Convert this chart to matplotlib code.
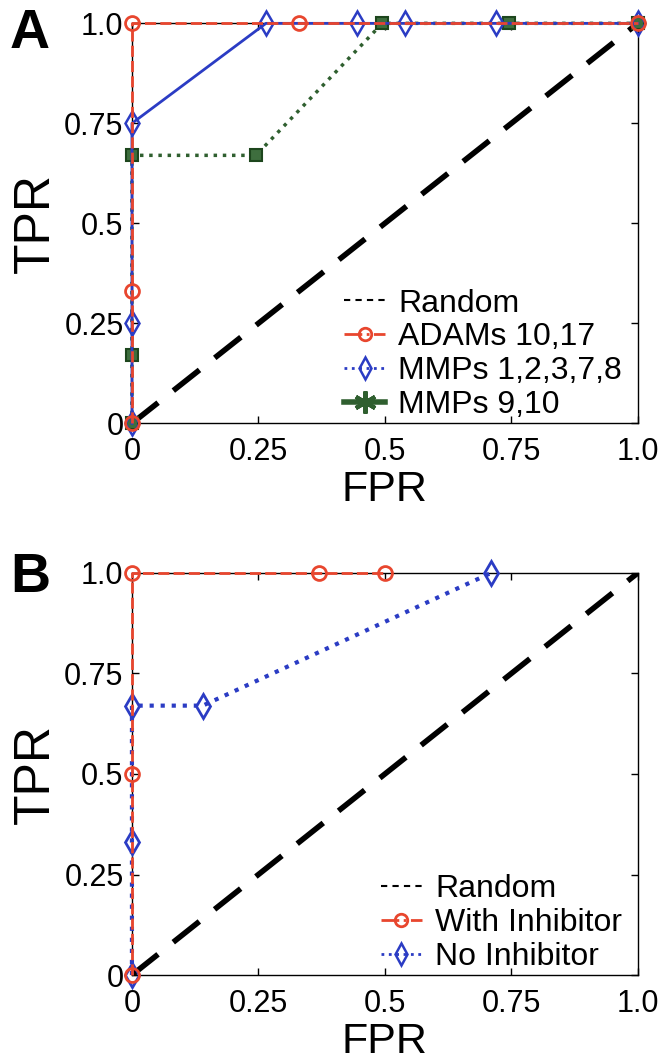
import matplotlib.pyplot as plt
from matplotlib.lines import Line2D

plt.rcParams["font.family"] = ["Liberation Sans", "DejaVu Sans"]

# ---- data ----
random_x = [0, 1]
random_y = [0, 1]

# panel A
adams_fpr = [0, 0, 0, 0.33, 1.0]
adams_tpr = [0, 0.33, 1.0, 1.0, 1.0]
mmp_a_fpr = [0, 0, 0, 0.265, 0.445, 0.54, 0.72, 1.0]
mmp_a_tpr = [0, 0.25, 0.75, 1.0, 1.0, 1.0, 1.0, 1.0]
mmp_b_fpr = [0, 0, 0, 0.245, 0.495, 0.745, 1.0]
mmp_b_tpr = [0, 0.17, 0.67, 0.67, 1.0, 1.0, 1.0]

# panel B
with_fpr = [0, 0, 0, 0.37, 0.5]
with_tpr = [0, 0.5, 1.0, 1.0, 1.0]
no_fpr = [0, 0, 0, 0.14, 0.71]
no_tpr = [0, 0.33, 0.67, 0.67, 1.0]

ticks = [0, 0.25, 0.5, 0.75, 1.0]
tick_labels = ["0", "0.25", "0.5", "0.75", "1.0"]

red = "#e8462e"
blue = "#2b3cc4"
green = "#2f5f2f"

fig = plt.figure(figsize=(6.63, 10.61), dpi=100)
axA = fig.add_axes([0.199, 0.601, 0.763, 0.377])
axB = fig.add_axes([0.199, 0.081, 0.763, 0.379])


def style(ax):
    ax.set_xlim(0, 1)
    ax.set_ylim(0, 1)
    ax.set_xticks(ticks)
    ax.set_xticklabels(tick_labels)
    ax.set_yticks(ticks)
    ax.set_yticklabels(tick_labels)
    ax.tick_params(direction="in", top=True, right=True, length=5,
                   labelsize=22, width=1)
    ax.tick_params(axis="x", pad=10)
    ax.tick_params(axis="y", pad=6)
    for s in ax.spines.values():
        s.set_linewidth(1)
    ax.set_xlabel("FPR", fontsize=31, labelpad=2)
    ax.set_ylabel("TPR", fontsize=36, labelpad=4)


def random_line(ax):
    ax.plot(random_x, random_y, color="k", lw=4, dashes=(6, 3.5), zorder=2)


def legend(ax, handles, labels):
    ax.legend(handles, labels, loc="lower right", bbox_to_anchor=(0.975, 0.0),
              frameon=False, fontsize=23, handlelength=1.3,
              handletextpad=0.4, labelspacing=0.12, borderaxespad=0.0,
              borderpad=0.1)


# panel A
random_line(axA)
axA.plot(mmp_b_fpr, mmp_b_tpr, color=green, ls=":", lw=2.5, marker="s",
         ms=8, mfc="#3e6e3e", mec="#1d461d", mew=1.5, zorder=3, clip_on=False)
axA.plot(mmp_a_fpr, mmp_a_tpr, color=blue, ls="-", lw=2, marker="d",
         ms=12, mfc="none", mec=blue, mew=1.8, zorder=4, clip_on=False)
axA.plot(adams_fpr, adams_tpr, color=red, ls="--", dashes=(4, 1.5), lw=2,
         marker="o", ms=10, mfc="none", mec=red, mew=2, zorder=5,
         clip_on=False)
style(axA)

handlesA = [
    Line2D([], [], color="k", lw=1.5, dashes=(3, 2.5)),
    Line2D([], [], color=red, ls="-.", lw=2, marker="o", ms=9, mfc="none",
           mew=2),
    Line2D([], [], color=blue, ls=":", lw=2, marker="d", ms=11, mfc="none",
           mew=1.8),
    Line2D([], [], color=green, ls="-", lw=4, marker=(6, 2, 0), ms=16,
           mew=3),
]
legend(axA, handlesA, ["Random", "ADAMs 10,17", "MMPs 1,2,3,7,8", "MMPs 9,10"])

# panel B
random_line(axB)
axB.plot(no_fpr, no_tpr, color=blue, ls=":", lw=3, marker="d", ms=12,
         mfc="none", mec=blue, mew=2, zorder=4, clip_on=False)
axB.plot(with_fpr, with_tpr, color=red, ls="--", dashes=(4, 1.5), lw=2,
         marker="o", ms=10, mfc="none", mec=red, mew=2, zorder=5,
         clip_on=False)
style(axB)

handlesB = [
    Line2D([], [], color="k", lw=1.5, dashes=(3, 2.5)),
    Line2D([], [], color=red, ls="-.", lw=2, marker="o", ms=9, mfc="none",
           mew=2),
    Line2D([], [], color=blue, ls=":", lw=2, marker="d", ms=11, mfc="none",
           mew=1.8),
]
legend(axB, handlesB, ["Random", "With Inhibitor", "No Inhibitor"])

# panel letters
fig.text(0.015, 0.955, "A", fontsize=40, fontweight="bold", va="baseline")
fig.text(0.015, 0.442, "B", fontsize=40, fontweight="bold", va="baseline")

fig.savefig("out.png", dpi=100)
